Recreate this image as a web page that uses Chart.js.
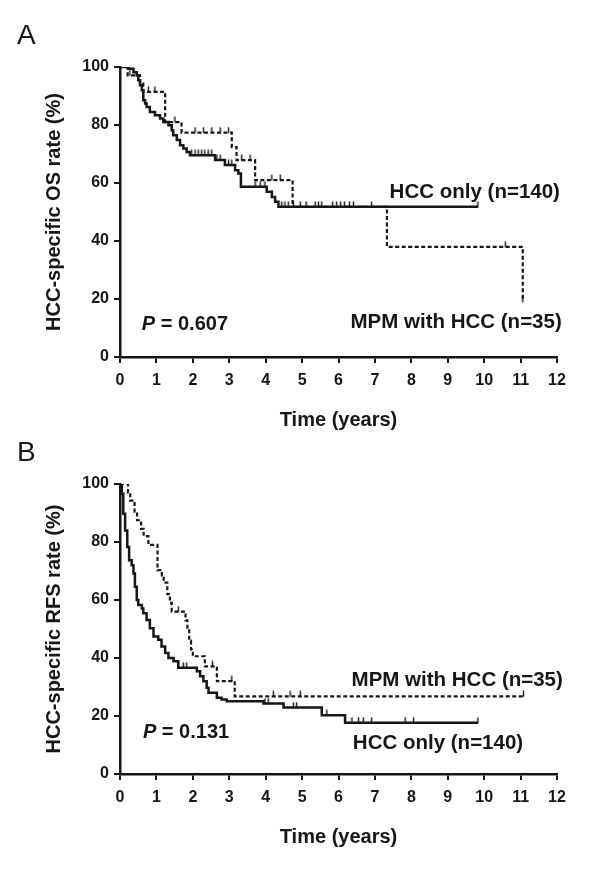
<!DOCTYPE html>
<html>
<head>
<meta charset="utf-8">
<script src="https://cdn.jsdelivr.net/npm/chart.js@4.4.1/dist/chart.umd.min.js"></script>
<style>
  html, body { margin: 0; padding: 0; background: #fff; }
  body { width: 600px; height: 889px; position: relative; overflow: hidden; }
  canvas { position: absolute; left: 0; }
  #chartOS { top: 0; }
  #chartRFS { top: 417px; }
</style>
</head>
<body>
<canvas id="chartOS" width="600" height="445"></canvas>
<canvas id="chartRFS" width="600" height="472"></canvas>
<script>
// --- Datos (tiempo en años, tasa en %) ---
const yearTicks = [0, 1, 2, 3, 4, 5, 6, 7, 8, 9, 10, 11, 12];
const rateTicks = [0, 20, 40, 60, 80, 100];

// A: OS, HCC only (n=140)
const osHccTimes = [0, 0.23, 0.37, 0.46, 0.5, 0.55, 0.6, 0.64, 0.69, 0.73, 0.82, 0.96, 1.1, 1.19, 1.33, 1.42,
  1.46, 1.56, 1.65, 1.74, 1.83, 1.92, 2.61, 2.88, 3.16, 3.25, 3.32, 4.03, 4.17, 4.26, 4.35, 9.83];
const osHccRates = [100, 99.4, 98.2, 97.1, 95.4, 93.7, 92, 88.5, 87.4, 86.2, 84.5, 83.4, 82.2, 81, 79.9, 78.2,
  76.5, 74.8, 73, 71.9, 70.7, 69.6, 67.9, 66.2, 64.4, 63.3, 58.7, 57, 55.2, 53.5, 51.8, 51.8];
const osHccCensor = [1.97, 2.06, 2.15, 2.24, 2.33, 2.42, 2.52, 2.66, 2.75, 2.98, 3.07, 3.71, 3.85, 3.98,
  4.44, 4.53, 4.62, 4.76, 4.95, 5.11, 5.36, 5.45, 5.54, 5.84, 5.95, 6.06, 6.16, 6.30, 6.41, 6.91, 9.83];

// A: OS, MPM with HCC (n=35)
const osMpmTimes = [0, 0.21, 0.55, 0.64, 1.24, 1.69, 3.07, 3.2, 3.71, 4.74, 7.33, 11.06];
const osMpmRates = [100, 97.1, 94.3, 91.4, 81, 77.4, 72.4, 67.9, 61, 51.8, 38, 19.1];
const osMpmCensor = [0.27, 0.78, 0.96, 1.51, 2.06, 2.29, 2.52, 2.75, 2.98, 3.34, 3.57, 4.17, 4.4, 10.58, 11.06];

// B: RFS, HCC only (n=140)
const rfsHccTimes = [0, 0.05, 0.09, 0.14, 0.2, 0.25, 0.32, 0.37, 0.41, 0.46, 0.5, 0.6, 0.64, 0.73, 0.82, 0.92,
  1.05, 1.14, 1.24, 1.33, 1.47, 1.6, 2.11, 2.2, 2.29, 2.38, 2.43, 2.66, 2.79, 2.93, 3.94, 4.49, 5.54, 6.18, 9.83];
const rfsHccRates = [100, 96.6, 89.7, 84, 78.3, 73.7, 72, 69.1, 64.6, 60, 58.3, 57.1, 55.4, 53.1, 50.3, 47.4,
  46.3, 44, 41.7, 40, 38.9, 36.6, 35.4, 33.7, 32, 29.7, 28, 26.3, 25.7, 25.1, 24.3, 22.9, 20.3, 17.7, 17.7];
const rfsHccCensor = [1.74, 1.83, 3.98, 4.07, 4.76, 4.85, 5.68, 6.37, 6.55, 6.68, 6.91, 7.83, 8.06, 9.83];

// B: RFS, MPM with HCC (n=35)
const rfsMpmTimes = [0, 0.22, 0.28, 0.4, 0.47, 0.58, 0.65, 0.78, 1.03, 1.15, 1.2, 1.3, 1.37, 1.42, 1.8, 1.85,
  1.9, 1.95, 2.0, 2.33, 2.66, 3.15, 11.08];
const rfsMpmRates = [100, 97.1, 94.3, 90.5, 87.5, 84.5, 82, 79, 70.3, 68.5, 66, 62, 59, 56, 53, 49.5,
  46, 43, 40.6, 37.1, 32, 26.8, 26.8];
const rfsMpmCensor = [1.6, 2.54, 3.07, 4.21, 4.67, 4.95, 11.08];

// --- Helpers ---
const INK = '#161616';
const FONT = '"Liberation Sans", Arial, Helvetica, sans-serif';

function curve(times, rates) {
  return times.map((t, i) => ({ x: t, y: rates[i] }));
}
// valor de la curva escalonada en el tiempo t (para las marcas de censura)
function stepAt(times, rates, t) {
  let v = rates[0];
  for (let i = 0; i < times.length; i++) if (times[i] <= t) v = rates[i];
  return v;
}
function censorPts(censor, times, rates) {
  return censor.map(t => ({ x: t, y: stepAt(times, rates, t) }));
}

// marca de censura: trazo vertical solo hacia arriba de la curva
const censorMark = (function () {
  const c = document.createElement('canvas');
  c.width = 3; c.height = 12;
  const g = c.getContext('2d');
  g.strokeStyle = INK;
  g.lineWidth = 1.4;
  g.beginPath(); g.moveTo(1.5, 0.5); g.lineTo(1.5, 6.5); g.stroke();
  return c;
})();

// Textos: letra del panel, valor P y etiquetas de las curvas
const kmText = {
  id: 'kmText',
  afterDraw(chart, args, opts) {
    const { ctx } = chart;
    const sx = chart.scales.x, sy = chart.scales.y;
    ctx.save();
    ctx.fillStyle = INK;
    ctx.textBaseline = 'alphabetic';
    ctx.textAlign = 'left';
    ctx.font = '28px ' + FONT;
    ctx.fillText(opts.letter, 17, 44);

    ctx.textBaseline = 'middle';
    ctx.font = 'bold 20.5px ' + FONT;
    opts.notes.forEach(n => {
      ctx.textAlign = n.align;
      ctx.fillText(n.text, sx.getPixelForValue(n.x), sy.getPixelForValue(n.y));
    });

    // P en cursiva
    const px = sx.getPixelForValue(opts.p.x), py = sy.getPixelForValue(opts.p.y);
    ctx.textAlign = 'left';
    ctx.font = 'italic bold 20px ' + FONT;
    ctx.fillText('P', px, py);
    const w = ctx.measureText('P').width;
    ctx.font = 'bold 20px ' + FONT;
    ctx.fillText(' = ' + opts.p.value, px + w, py);
    ctx.restore();
  }
};

function kmChart(el, cfg) {
  const lineBase = { type: 'line', stepped: 'before', pointRadius: 0, fill: false, borderColor: INK,
    borderCapStyle: 'butt', borderJoinStyle: 'miter', tension: 0 };
  const tickBase = { type: 'scatter', showLine: false, pointStyle: censorMark, pointRadius: 3,
    borderColor: INK, backgroundColor: INK };
  return new Chart(el, {
    data: {
      datasets: [
        { ...lineBase, label: 'HCC only', data: curve(cfg.hccTimes, cfg.hccRates), borderWidth: 2.5 },
        { ...lineBase, label: 'MPM with HCC', data: curve(cfg.mpmTimes, cfg.mpmRates), borderWidth: 2.2,
          borderDash: [4, 2.5] },
        { ...tickBase, data: censorPts(cfg.hccCensor, cfg.hccTimes, cfg.hccRates) },
        { ...tickBase, data: censorPts(cfg.mpmCensor, cfg.mpmTimes, cfg.mpmRates) }
      ]
    },
    options: {
      responsive: false,
      animation: false,
      layout: { padding: { left: 20, right: 43, top: 67, bottom: cfg.padBottom } },
      plugins: {
        legend: { display: false },
        tooltip: { enabled: false },
        kmText: { letter: cfg.letter, notes: cfg.notes, p: cfg.p }
      },
      scales: {
        x: {
          type: 'linear', min: 0, max: 12,
          afterBuildTicks: (s) => { s.ticks = yearTicks.map(v => ({ value: v })); },
          afterFit: (s) => { s.height = 88; },
          border: { display: true, color: INK, width: 2.5 },
          grid: { drawOnChartArea: false, drawTicks: true, tickLength: 6, color: INK, lineWidth: 2 },
          ticks: { color: INK, padding: 8, font: { family: FONT, size: 16, weight: 'bold' } },
          title: { display: true, text: 'Time (years)', color: INK, padding: { top: 0, bottom: 13 },
            font: { family: FONT, size: 20, weight: 'bold' } }
        },
        y: {
          type: 'linear', min: 0, max: 100,
          afterBuildTicks: (s) => { s.ticks = rateTicks.map(v => ({ value: v })); },
          afterFit: (s) => { s.width = 100; },
          border: { display: true, color: INK, width: 2.5 },
          grid: { drawOnChartArea: false, drawTicks: true, tickLength: 6, color: INK, lineWidth: 2 },
          ticks: { color: INK, padding: 5, font: { family: FONT, size: 16, weight: 'bold' } },
          title: { display: true, text: cfg.yTitle, color: INK, padding: { top: 22, bottom: 0 },
            font: { family: FONT, size: 20, weight: 'bold' } }
        }
      }
    },
    plugins: [kmText]
  });
}

document.addEventListener('DOMContentLoaded', function () {
  if (!window.Chart) return;

  kmChart(document.getElementById('chartOS'), {
    letter: 'A',
    yTitle: 'HCC-specific OS rate (%)',
    padBottom: 0,
    hccTimes: osHccTimes, hccRates: osHccRates, hccCensor: osHccCensor,
    mpmTimes: osMpmTimes, mpmRates: osMpmRates, mpmCensor: osMpmCensor,
    notes: [
      { text: 'HCC only (n=140)', x: 12.08, y: 56.9, align: 'right' },
      { text: 'MPM with HCC (n=35)', x: 12.13, y: 12.1, align: 'right' }
    ],
    p: { x: 0.6, y: 11.2, value: '0.607' }
  });

  kmChart(document.getElementById('chartRFS'), {
    letter: 'B',
    yTitle: 'HCC-specific RFS rate (%)',
    padBottom: 27,
    hccTimes: rfsHccTimes, hccRates: rfsHccRates, hccCensor: rfsHccCensor,
    mpmTimes: rfsMpmTimes, mpmRates: rfsMpmRates, mpmCensor: rfsMpmCensor,
    notes: [
      { text: 'MPM with HCC (n=35)', x: 12.16, y: 32.2, align: 'right' },
      { text: 'HCC only (n=140)', x: 11.07, y: 10.6, align: 'right' }
    ],
    p: { x: 0.63, y: 14.4, value: '0.131' }
  });
});
</script>
</body>
</html>
